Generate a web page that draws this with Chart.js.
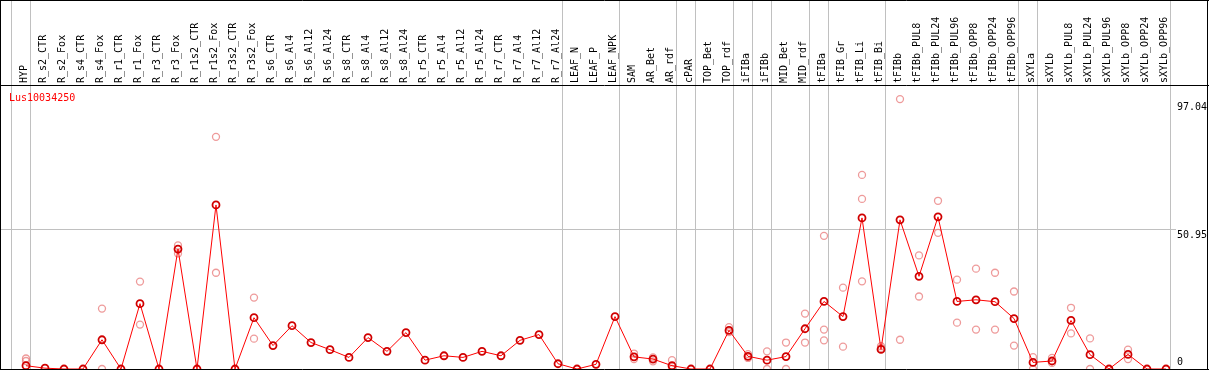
<!DOCTYPE html>
<html>
<head>
<meta charset="utf-8">
<script src="https://cdn.jsdelivr.net/npm/chart.js@4/dist/chart.umd.min.js"></script>
<style>
body{margin:0;background:#fff}
#wrap{width:1209px;height:370px}
</style>
</head>
<body>
<div id="wrap"><canvas id="geneChart" width="1209" height="370"></canvas></div>
<script>

let geneId = "Lus10034250"

let samples = ["HYP","R_s2_CTR","R_s2_Fox","R_s4_CTR","R_s4_Fox","R_r1_CTR","R_r1_Fox","R_r3_CTR","R_r3_Fox",
"R_r1s2_CTR","R_r1s2_Fox","R_r3s2_CTR","R_r3s2_Fox","R_s6_CTR","R_s6_Al4","R_s6_Al12","R_s6_Al24",
"R_s8_CTR","R_s8_Al4","R_s8_Al12","R_s8_Al24","R_r5_CTR","R_r5_Al4","R_r5_Al12","R_r5_Al24",
"R_r7_CTR","R_r7_Al4","R_r7_Al12","R_r7_Al24","LEAF_N","LEAF_P","LEAF_NPK","SAM","AR_Bet","AR_rdf",
"cPAR","TOP_Bet","TOP_rdf","iFIBa","iFIBb","MID_Bet","MID_rdf","tFIBa","tFIB_Gr","tFIB_Li","tFIB_Bi",
"tFIBb","tFIBb_PUL8","tFIBb_PUL24","tFIBb_PUL96","tFIBb_OPP8","tFIBb_OPP24","tFIBb_OPP96",
"sXYLa","sXYLb","sXYLb_PUL8","sXYLb_PUL24","sXYLb_PUL96","sXYLb_OPP8","sXYLb_OPP24","sXYLb_OPP96"]

// mean expression per sample
let means = [1.2,0.3,0,0,10.6,0,23.7,0,43.5,0,
59.5,0,18.6,8.5,15.7,9.6,7.0,4.2,11.4,6.4,
13.2,3.2,4.8,4.2,6.4,4.8,10.4,12.5,1.9,0,
1.7,19.0,4.4,3.6,1.2,0,0,14.0,4.6,3.2,
4.5,14.6,24.5,19.0,54.8,7.1,54.1,33.6,55.2,24.5,
25.1,24.4,18.3,2.4,2.9,17.6,5.2,0,5.3,0,0]

// replicate values per sample (empty = only one replicate)
let replicates = [[3.8,2.9],[],[],[],[21.9,0],[],[31.7,16.1],[],[44.8,41.9],[],
[84.2,34.9],[],[25.9,11.0],[],[],[],[],[],[],[],
[],[],[],[],[],[],[],[],[],[],
[],[],[5.6,3.6],[4.2,2.8],[3.2,0],[],[],[15.2,13.4],[5.4,4.0],[6.4,0],
[9.6,0],[20.1,9.6],[48.3,14.3,10.4],[29.5,8.1],[70.4,61.7,31.8],[8.3,7.6],[97.9,10.6],[41.2,26.3],[61.0,49.4],[32.4,16.8],
[36.4,14.3],[34.9,14.3],[28.1,8.5],[4.3,0],[4.0,2.2],[22.2,12.9],[11.1,0],[],[7.0,3.6],[],[]]

// group separators drawn just after these samples
let separators = [-1,0,28,31,34,35,37,38,39,41,42,45,52,53,60]

let yTicks = [0,50.95,97.04]
let gridValue = 50.95


let mono = "DejaVu Sans Mono"

let linePoints = means.map((v,i)=>({x:i,y:v}))

let repPoints = []
replicates.forEach((list,i)=>{
list.forEach(v=>repPoints.push({x:i,y:v}))
})


let frame = {

id:"frame",

beforeDatasetsDraw(chart){

let ctx=chart.ctx
let xs=chart.scales.x
let ys=chart.scales.y
let area=chart.chartArea

ctx.save()
ctx.strokeStyle="#c0c0c0"
ctx.lineWidth=1

separators.forEach(s=>{
let px=Math.round(xs.getPixelForValue(s+0.21))+0.5
ctx.beginPath()
ctx.moveTo(px,0)
ctx.lineTo(px,area.bottom)
ctx.stroke()
})

let gy=Math.round(ys.getPixelForValue(gridValue))+0.5
ctx.beginPath()
ctx.moveTo(area.left,gy)
ctx.lineTo(area.right+6,gy)
ctx.stroke()

ctx.restore()

},

afterDraw(chart){

let ctx=chart.ctx
let ys=chart.scales.y
let area=chart.chartArea
let w=chart.width

ctx.save()
ctx.strokeStyle="#000"
ctx.lineWidth=1

ctx.beginPath()
ctx.moveTo(0,0.5); ctx.lineTo(w,0.5)
ctx.moveTo(0,area.top+0.5); ctx.lineTo(w,area.top+0.5)
ctx.moveTo(0,area.bottom+0.5); ctx.lineTo(w,area.bottom+0.5)
ctx.moveTo(0.5,0); ctx.lineTo(0.5,area.bottom)
ctx.moveTo(w-1.5,0); ctx.lineTo(w-1.5,area.bottom)
ctx.stroke()

ctx.font="10px '"+mono+"'"
ctx.textBaseline="alphabetic"
ctx.textAlign="left"

ctx.fillStyle="#ff0000"
ctx.fillText(geneId,area.left+9,area.top+16)

ctx.fillStyle="#000"
yTicks.forEach(t=>{
let py=Math.min(ys.getPixelForValue(t)+9,area.bottom-4)
ctx.fillText(String(t),area.right+7,py)
})

ctx.restore()

}

}


new Chart(document.getElementById("geneChart"),{

type:"line",

data:{

datasets:[{

label:"mean",
data:linePoints,
borderColor:"#ff0000",
borderWidth:1,
pointRadius:3.5,
pointBorderWidth:1.8,
pointBorderColor:"#d00000",
pointBackgroundColor:"rgba(0,0,0,0)",
tension:0,
order:1

},{

type:"scatter",
label:"replicates",
data:repPoints,
showLine:false,
pointRadius:3.5,
pointBorderWidth:1.3,
pointBorderColor:"rgba(232,120,120,0.75)",
pointBackgroundColor:"rgba(0,0,0,0)",
order:2

}]

},

options:{

responsive:false,
animation:false,
events:[],

layout:{autoPadding:false,padding:{left:0,right:0,top:0,bottom:1}},

plugins:{
legend:{display:false},
tooltip:{enabled:false}
},

scales:{

x:{
type:"linear",
position:"top",
min:-1.368,
max:60.21,
grid:{display:false,drawTicks:false},
border:{display:false},
ticks:{
stepSize:1,
maxTicksLimit:200,
autoSkip:false,
includeBounds:false,
minRotation:90,
maxRotation:90,
padding:2,
labelOffset:10,
color:"#000",
font:{family:mono,size:10},
callback:v=>{
let i=Math.round(v)
return Math.abs(v-i)<1e-6&&samples[i]!==undefined?samples[i]:""
}
},
afterFit:s=>{s.height=85;s.paddingLeft=0;s.paddingRight=0}
},

y:{
type:"linear",
position:"right",
min:0,
max:103,
grid:{display:false,drawTicks:false},
border:{display:false},
ticks:{display:false},
afterFit:s=>{s.width=39;s.paddingTop=0;s.paddingBottom=0}
}

}

},

plugins:[frame]

})

</script>
</body>
</html>
